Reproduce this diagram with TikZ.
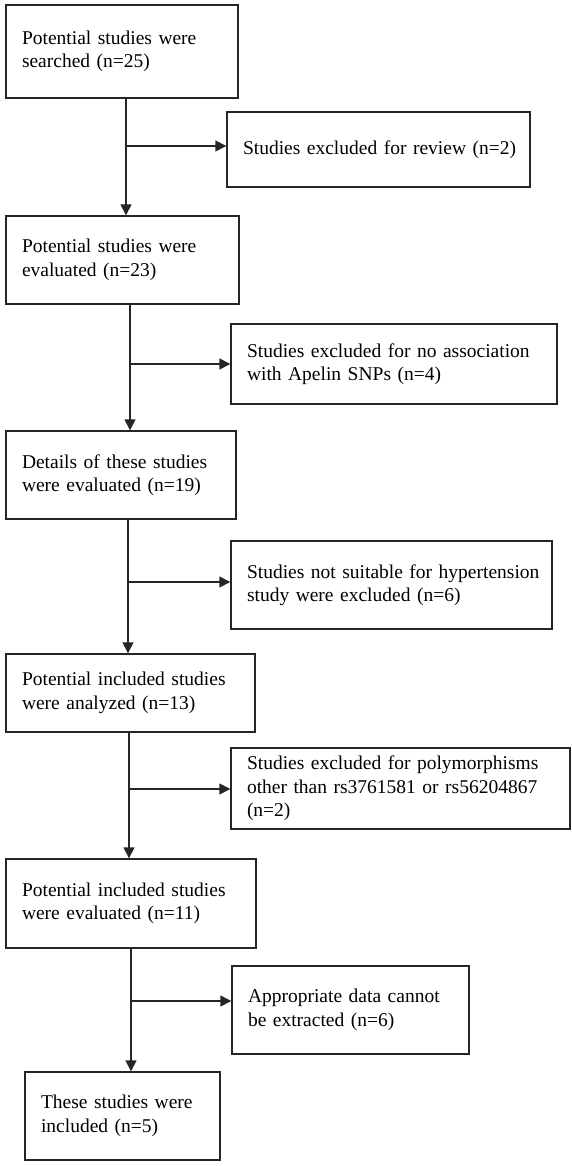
\documentclass[tikz,border=0pt]{standalone}
\usepackage{fontspec}
\setmainfont{Liberation Serif}
\usetikzlibrary{arrows.meta}
\begin{document}
\begin{tikzpicture}[x=1pt,y=-1pt,
  box/.style={draw=black!85, line width=1.4pt, align=left, inner xsep=16pt, inner ysep=0pt,
    font=\fontsize{19.5}{23.5}\selectfont, anchor=center},
  conn/.style={line width=1.4pt, draw=black!85},
  arr/.style={conn, -{Triangle[length=11pt,width=11pt]}}]
\useasboundingbox (0,0) rectangle (571,1166);
% main boxes
\node[box, minimum width=232pt, minimum height=93pt, text width=200pt] (b1) at (122,51.5)
  {\mbox{Potential studies were}\\\mbox{searched (n=25)}};
\node[box, minimum width=233pt, minimum height=88pt, text width=201pt] (b2) at (122.5,260)
  {\mbox{Potential studies were}\\\mbox{evaluated (n=23)}};
\node[box, minimum width=230pt, minimum height=88pt, text width=198pt] (b3) at (121,475)
  {\mbox{Details of these studies}\\\mbox{were evaluated (n=19)}};
\node[box, minimum width=249pt, minimum height=78pt, text width=217pt] (b4) at (130.5,693)
  {\mbox{Potential included studies}\\\mbox{were analyzed (n=13)}};
\node[box, minimum width=250pt, minimum height=89pt, text width=218pt] (b5) at (131,903.5)
  {\mbox{Potential included studies}\\\mbox{were evaluated (n=11)}};
\node[box, minimum width=195pt, minimum height=88pt, text width=163pt] (b6) at (122.5,1116)
  {\mbox{These studies were}\\\mbox{included (n=5)}};
% side boxes
\node[box, minimum width=303pt, minimum height=75pt, text width=271pt] (s1) at (378.5,149.5)
  {\mbox{Studies excluded for review (n=2)}};
\node[box, minimum width=326pt, minimum height=80pt, text width=294pt] (s2) at (394,364)
  {\mbox{Studies excluded for no association}\\\mbox{with Apelin SNPs (n=4)}};
\node[box, minimum width=321pt, minimum height=88pt, text width=289pt] (s3) at (391.5,585)
  {\mbox{Studies not suitable for hypertension}\\\mbox{study were excluded (n=6)}};
\node[box, minimum width=339pt, minimum height=81pt, text width=307pt] (s4) at (400.5,788.5)
  {\mbox{Studies excluded for polymorphisms}\\\mbox{other than rs3761581 or rs56204867}\\\mbox{(n=2)}};
\node[box, minimum width=237pt, minimum height=88pt, text width=205pt] (s5) at (350.5,1010)
  {\mbox{Appropriate data cannot}\\\mbox{be extracted (n=6)}};
% junctions
\coordinate (j1) at (126,146);
\coordinate (j2) at (130,364);
\coordinate (j3) at (128,582);
\coordinate (j4) at (129,789);
\coordinate (j5) at (131,1001);
% connectors
\draw[arr] (b1.south -| j1) -- (b2.north -| j1);
\draw[arr] (j1) -- (s1.west |- j1);
\draw[arr] (b2.south -| j2) -- (b3.north -| j2);
\draw[arr] (j2) -- (s2.west |- j2);
\draw[arr] (b3.south -| j3) -- (b4.north -| j3);
\draw[arr] (j3) -- (s3.west |- j3);
\draw[arr] (b4.south -| j4) -- (b5.north -| j4);
\draw[arr] (j4) -- (s4.west |- j4);
\draw[arr] (b5.south -| j5) -- (b6.north -| j5);
\draw[arr] (j5) -- (s5.west |- j5);
\end{tikzpicture}
\end{document}
